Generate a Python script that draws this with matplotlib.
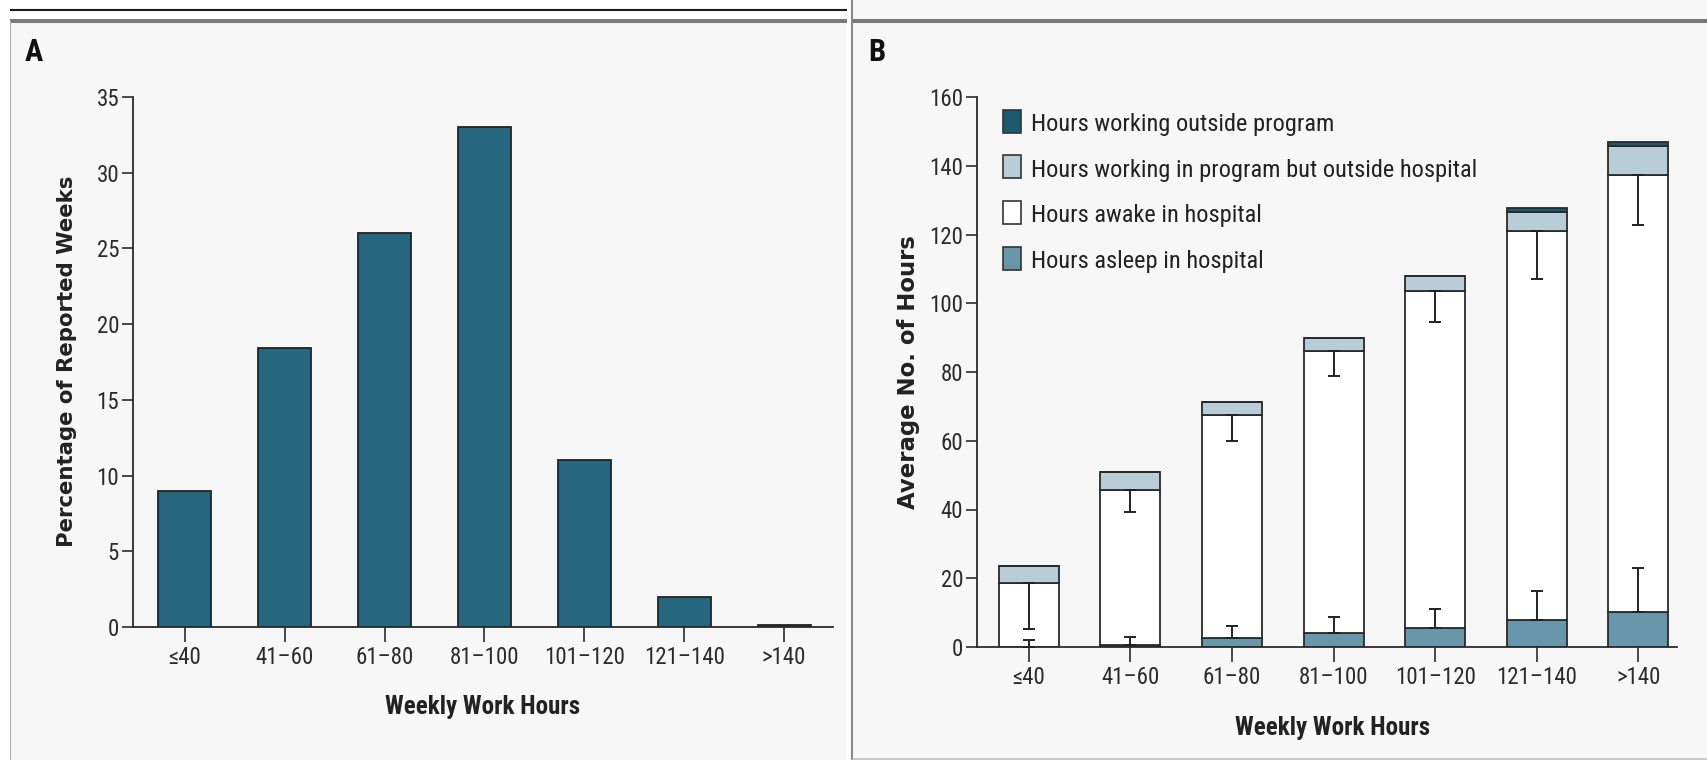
import numpy as np
import matplotlib
matplotlib.use("Agg")
import matplotlib.pyplot as plt
from matplotlib import font_manager
from matplotlib.patches import Rectangle

# ---------------- data ----------------
categories = ["≤40", "41–60", "61–80", "81–100", "101–120", "121–140", ">140"]

# Panel A: share of reported weeks in each work-hour band (%)
pct_weeks = [9.0, 18.4, 26.0, 33.0, 11.0, 2.0, 0.15]

# Panel B: average hours per week, by component (stacked bottom -> top)
hours_asleep = [0.0, 0.6, 2.5, 4.1, 5.6, 7.9, 10.2]
hours_awake = [18.7, 45.0, 64.9, 82.0, 98.1, 113.1, 127.2]
hours_program_outside = [5.0, 5.4, 3.8, 3.7, 4.2, 5.6, 8.4]
hours_outside_program = [0.0, 0.0, 0.0, 0.0, 0.0, 1.0, 1.2]

# standard deviations (awake drawn downward, asleep drawn upward)
sd_awake = [13.6, 6.3, 7.5, 7.2, 9.1, 13.8, 14.7]
sd_asleep = [1.9, 2.3, 3.5, 4.6, 5.4, 8.4, 12.8]

series_labels = [
    "Hours working outside program",
    "Hours working in program but outside hospital",
    "Hours awake in hospital",
    "Hours asleep in hospital",
]

# ---------------- style ----------------
TEAL = "#27667f"
DARK_TEAL = "#1d5a72"
LIGHT_BLUE = "#b9cdd8"
MID_BLUE = "#6896aa"
WHITE = "#ffffff"
PANEL_BG = "#f7f7f7"
INK = "#2b2b2b"

avail = {f.name for f in font_manager.fontManager.ttflist}


def first_font(*names):
    for n in names:
        if n in avail:
            return n
    return "DejaVu Sans"


NARROW = first_font("Liberation Sans Narrow", "Roboto Condensed", "Liberation Sans")
SCALE = 1.0 if NARROW != "Liberation Sans" else 0.85
WIDE = "DejaVu Sans"

plt.rcParams["font.family"] = [NARROW, "DejaVu Sans"]

W, H = 1708, 760
fig = plt.figure(figsize=(W / 100, H / 100), dpi=100)
fig.patch.set_facecolor("white")

# pixel-space canvas for panel frames and free text
canvas = fig.add_axes([0, 0, 1, 1], zorder=0)
canvas.set_xlim(0, W)
canvas.set_ylim(H, 0)
canvas.axis("off")

canvas.add_patch(Rectangle((10, 21), 837, H - 21, fc=PANEL_BG, ec="none"))
canvas.add_patch(Rectangle((853, 0), W - 853, H, fc=PANEL_BG, ec="none"))
canvas.plot([10, 847], [9.5, 9.5], color="#1a1a1a", lw=1.5, solid_capstyle="butt")
canvas.plot([10, 847], [21, 21], color="#7a7a7a", lw=2.9, solid_capstyle="butt")
canvas.plot([853, W], [21, 21], color="#7a7a7a", lw=2.9, solid_capstyle="butt")
canvas.plot([852, 852], [0, H], color="#8a8a8a", lw=1.5, solid_capstyle="butt")
canvas.plot([10.5, 10.5], [21, H], color="#b0b0b0", lw=0.8)
canvas.plot([853, W], [759, 759], color="#c0c0c0", lw=1.2)


def px_axes(x0, y0, x1, y1):
    ax = fig.add_axes([x0 / W, 1 - y1 / H, (x1 - x0) / W, (y1 - y0) / H], zorder=1)
    ax.set_facecolor("none")
    return ax


def style_axes(ax, ymax, step, xlim):
    for s in ("top", "right"):
        ax.spines[s].set_visible(False)
    for s in ("left", "bottom"):
        ax.spines[s].set_color(INK)
        ax.spines[s].set_linewidth(1.3)
    ax.set_xlim(*xlim)
    ax.set_ylim(0, ymax)
    ax.set_yticks(np.arange(0, ymax + 1, step))
    ax.set_xticks(np.arange(len(categories)))
    ax.set_xticklabels(categories)
    ax.tick_params(axis="y", length=8, width=1.2, pad=2, colors=INK,
                   labelsize=16.5 * SCALE)
    ax.tick_params(axis="x", length=11, width=1.2, pad=3, colors=INK,
                   labelsize=16.5 * SCALE)


x = np.arange(len(categories))

# ---------------- panel A ----------------
ax_a = px_axes(133, 97, 833, 627)
style_axes(ax_a, 35, 5, (-0.52, 6.49))
ax_a.bar(x, pct_weeks, width=0.53, color=TEAL, edgecolor="#222222",
         linewidth=1.3, zorder=2)
ax_a.set_ylabel("Percentage of Reported Weeks", fontfamily=WIDE,
                fontweight="bold", fontsize=15.3, color="#222222")
ax_a.yaxis.label.set_va("center")
ax_a.yaxis.set_label_coords(67, 361, transform=canvas.transData)
ax_a.set_xlabel("Weekly Work Hours", fontweight="bold", fontsize=18 * SCALE,
                color="#222222")
ax_a.xaxis.label.set_va("center")
ax_a.xaxis.set_label_coords(483, 707, transform=canvas.transData)

# ---------------- panel B ----------------
ax_b = px_axes(977, 97, 1677, 647)
style_axes(ax_b, 160, 20, (-0.51, 6.38))

segments = [
    (hours_asleep, MID_BLUE),
    (hours_awake, WHITE),
    (hours_program_outside, LIGHT_BLUE),
    (hours_outside_program, DARK_TEAL),
]
bottom = np.zeros(len(categories))
for vals, color in segments:
    vals = np.asarray(vals)
    ax_b.bar(x, vals, width=0.59, bottom=bottom, color=color,
             edgecolor="#2a2a2a", linewidth=1.3, zorder=2)
    bottom = bottom + vals

zeros = np.zeros(len(categories))
awake_top = np.asarray(hours_asleep) + np.asarray(hours_awake)
ax_b.errorbar(x, awake_top, yerr=[sd_awake, zeros], fmt="none",
              ecolor="#222222", elinewidth=1.4, capsize=4.3, capthick=1.4,
              zorder=3)
ax_b.errorbar(x, hours_asleep, yerr=[zeros, sd_asleep], fmt="none",
              ecolor="#222222", elinewidth=1.4, capsize=4.3, capthick=1.4,
              zorder=3)

ax_b.set_ylabel("Average No. of Hours", fontfamily=WIDE, fontweight="bold",
                fontsize=16.4, color="#222222")
ax_b.yaxis.label.set_va("center")
ax_b.yaxis.set_label_coords(909, 372, transform=canvas.transData)
ax_b.set_xlabel("Weekly Work Hours", fontweight="bold", fontsize=18 * SCALE,
                color="#222222")
ax_b.xaxis.label.set_va("center")
ax_b.xaxis.set_label_coords(1333, 728, transform=canvas.transData)

# legend, top entry first
legend_colors = [DARK_TEAL, LIGHT_BLUE, WHITE, MID_BLUE]
for i, (label, color) in enumerate(zip(series_labels, legend_colors)):
    cy = 121 + i * 45.7
    canvas.add_patch(Rectangle((1003, cy - 11.5), 18, 23, fc=color,
                               ec="#333333", lw=1.2, zorder=3))
    canvas.text(1031, cy + 1, label, ha="left", va="center_baseline",
                fontsize=17.6 * SCALE, color="#222222")

# panel letters
canvas.text(25, 52, "A", ha="left", va="center", fontweight="bold",
            fontsize=22 * SCALE, color="#111111")
canvas.text(868, 52, "B", ha="left", va="center", fontweight="bold",
            fontsize=22 * SCALE, color="#111111")

fig.savefig("out.png", dpi=100, facecolor=fig.get_facecolor())
